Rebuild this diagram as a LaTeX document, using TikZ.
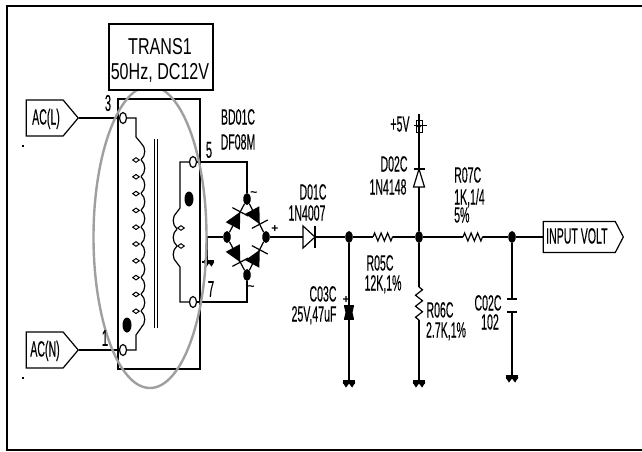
\documentclass[tikz,border=0pt]{standalone}
\usepackage{fontspec}
\usetikzlibrary{positioning,calc,shapes.geometric,shapes.symbols,decorations.pathmorphing}
\setmainfont{Liberation Sans}
\newfontfamily\schemfont[FakeStretch=0.48,FakeBold=0.25]{Liberation Sans}
\newfontfamily\titlefont[FakeStretch=0.7]{Liberation Sans}
\tikzset{
  wire/.style={line width=1.2pt},
  lbl/.style={font=\schemfont\fontsize{22}{22}\selectfont, inner sep=0pt, text height=15pt, text depth=0pt},
  pinno/.style={font=\schemfont\fontsize{23}{23}\selectfont, inner sep=0pt},
  polarity/.style={font=\bfseries\fontsize{12}{12}\selectfont, inner sep=0pt},
  tag/.style={draw, line width=1.2pt, signal, signal to=east, inner sep=0pt, anchor=east},
  terminal/.style={draw, line width=1.2pt, fill=white, ellipse, inner sep=0pt, minimum width=7pt, minimum height=11pt},
  junction/.style={fill=black, ellipse, inner sep=0pt, minimum width=7.5pt, minimum height=12pt},
  phasedot/.style={fill=black, ellipse, inner sep=0pt, minimum width=9pt, minimum height=15pt},
  coiltap/.style={draw, line width=1pt, fill=white, diamond, aspect=1.4, inner sep=0pt, minimum width=7pt, minimum height=5pt},
  resistor/.style={wire, decorate, decoration={zigzag, segment length=6.5pt, amplitude=4pt}},
  gnd/.pic={
    \fill (-6,-1) rectangle (6,2.5);
    \draw[line width=1.8pt] (-5.5,1) -- (-3,5) -- (0,1) -- (3,5) -- (5.5,1);
  },
  bridgediode/.pic={
    \fill (-9,-8) -- (-9,8) -- (7,0) -- cycle;
    \draw[line width=1.2pt] (7,-9) -- (7,9);
  }
}
\begin{document}
\begin{tikzpicture}[x=1pt,y=-1pt]
  \useasboundingbox (0,0) rectangle (642,452);
  \clip (0,0) rectangle (642,452);
  \draw[line width=2.6pt] (7,6) rectangle (646,450);

  % Nodes
  \node[tag, signal pointer angle=100, minimum width=52pt, minimum height=36pt] (ac_l) at (79,118) {};
  \node[lbl] (ac_l_txt) at (46,117) {AC(L)};
  \node[tag, signal pointer angle=100, minimum width=52pt, minimum height=36pt] (ac_n) at (79,350) {};
  \node[lbl] (ac_n_txt) at (45,349) {AC(N)};
  \node[tag, signal pointer angle=125, minimum width=80pt, minimum height=31pt] (input_volt) at (624,237) {};
  \node[lbl, anchor=west] (input_volt_txt) at (546,236) {INPUT VOLT};

  \node[terminal] (pin3) at (123,118) {};
  \node[terminal] (pin1) at (123,350) {};
  \node[terminal] (pin5) at (193,162) {};
  \node[terminal] (pin7) at (193,302) {};
  \coordinate (prim_top) at (136,118);
  \coordinate (prim_bot) at (136,350);
  \coordinate (sec_top) at (180,162);
  \coordinate (sec_bot) at (180,302);
  \coordinate (corner5) at (247,162);
  \coordinate (corner7) at (247,302);

  \node[junction] (br_top) at (247,199) {};
  \node[junction] (br_left) at (227,237) {};
  \node[junction] (br_right) at (266,237) {};
  \node[junction] (br_bot) at (247,275) {};
  \coordinate (tap) at (207,237);
  \coordinate (tap_gnd) at (207,261);

  \node[junction] (j_c03) at (349,237) {};
  \node[junction] (j_mid) at (419,237) {};
  \node[junction] (j_out) at (512,237) {};
  \coordinate (d01_a) at (303,237);
  \coordinate (d01_k) at (315,237);
  \coordinate (r05_a) at (373,237);
  \coordinate (r05_b) at (393,237);
  \coordinate (r07_a) at (463,237);
  \coordinate (r07_b) at (483,237);
  \coordinate (r06_a) at (419,287);
  \coordinate (r06_b) at (419,320);
  \coordinate (d02_k) at (419,169);
  \coordinate (d02_a) at (419,187);
  \coordinate (vcc) at (419,114);
  \coordinate (c03_a) at (349,306);
  \coordinate (c03_b) at (349,319);
  \coordinate (c02_a) at (512,299);
  \coordinate (c02_b) at (512,312);
  \coordinate (g_c03) at (349,381);
  \coordinate (g_r06) at (419,381);
  \coordinate (g_c02) at (512,376);

  % Transformer
  \draw[wire] (118,99) rectangle (200,369);
  \draw[line width=1pt] (154,139) -- (154,328) (157,139) -- (157,328);
  \draw[wire] (pin3) -- (prim_top) -- (136,137) -- (141,143);
  \foreach \n in {0,...,10}
    \draw[wire] (141,143+\n*16.8) to[bend left=50] (141,143+\n*16.8+16.8);
  \draw[wire] (141,328) -- (136,335) -- (prim_bot) -- (pin1);
  \foreach \n in {0,...,9}
    \node[coiltap] (tap\n) at (136,160+\n*16.8) {};
  \node[phasedot] (dot_prim) at (127,325) {};
  \draw[wire] (pin5) -- (sec_top) -- (180,208) -- (177,212);
  \foreach \n in {0,1,2}
    \draw[wire] (177,212+\n*17) to[bend right=50] (177,212+\n*17+17);
  \draw[wire] (177,263) -- (180,267) -- (sec_bot) -- (pin7);
  \node[coiltap] (sec_tap0) at (181,228) {};
  \node[coiltap] (sec_tap1) at (181,246) {};
  \node[phasedot] (dot_sec) at (189,199) {};

  % Bridge
  \draw[wire] (pin5) -- (corner5) -- (br_top);
  \draw[wire] (pin7) -- (corner7) -- (br_bot);
  \draw[wire] (br_left) -- (br_top) -- (br_right) -- (br_bot) -- (br_left);
  \draw[wire] (tap) -- (br_left);
  \draw[wire] (tap) -- (tap_gnd);
  \pic[scale=0.8] at ($(tap_gnd)+(2,0)$) {gnd};
  \pic[rotate=62] at ($(br_left)!0.5!(br_top)$) {bridgediode};
  \pic[rotate=-62] at ($(br_top)!0.5!(br_right)$) {bridgediode};
  \pic[rotate=-62] at ($(br_left)!0.5!(br_bot)$) {bridgediode};
  \pic[rotate=62] at ($(br_bot)!0.5!(br_right)$) {bridgediode};

  % Wires
  \draw[wire] (ac_l.east) -- (pin3);
  \draw[wire] (ac_n.east) -- (pin1);
  \draw[wire] (br_right) -- (d01_a);
  \draw[wire] (d01_a) ++(0,-11) -- ++(0,22) -- (d01_k) -- cycle;
  \draw[wire] (d01_k) ++(0,-11) -- ++(0,22);
  \draw[wire] (d01_k) -- (j_c03) -- (r05_a);
  \draw[resistor] (r05_a) -- (r05_b);
  \draw[wire] (r05_b) -- (j_mid) -- (r07_a);
  \draw[resistor] (r07_a) -- (r07_b);
  \draw[wire] (r07_b) -- (j_out) -- (input_volt.west);

  \draw[wire] (j_mid) -- (d02_a);
  \draw[wire] (d02_a) ++(-5.5,0) -- ++(11,0) -- (d02_k) -- cycle;
  \draw[wire] (d02_k) ++(-5.5,0) -- ++(11,0);
  \draw[wire] (d02_k) -- (vcc);
  \draw[line width=1pt] (416,120) rectangle (422,132);
  \draw[line width=1pt] (414,125.5) -- (427,125.5);
  \draw[line width=1pt] (419,126) circle (1.6);

  \draw[wire] (j_mid) -- (r06_a);
  \draw[resistor, decoration={amplitude=3.5pt, segment length=11pt}] (r06_a) -- (r06_b);
  \draw[wire] (r06_b) -- (g_r06);
  \pic at (g_r06) {gnd};

  \draw[wire] (j_c03) -- (c03_a);
  \draw[wire] (c03_b) -- (g_c03);
  \draw[line width=1.6pt] (c03_a) ++(-5,0) -- ++(10,0) (c03_b) ++(-5,0) -- ++(10,0);
  \fill (344,306) -- (354,306) -- (352.5,312.5) -- (354,319) -- (344,319) -- (345.5,312.5) -- cycle;
  \pic at (g_c03) {gnd};

  \draw[wire] (j_out) -- (c02_a);
  \draw[wire] (c02_b) -- (g_c02);
  \draw[wire] (c02_a) ++(-5,0) -- ++(10,0);
  \draw[wire] (c02_b) ++(-5,0) -- ++(10,0);
  \pic at (g_c02) {gnd};

  % Highlight
  \node[draw=gray!75, line width=2.4pt, ellipse, inner sep=0pt, minimum width=113pt, minimum height=302pt] (trans_ring) at (150,237) {};
  \node[draw, fill=white, line width=2pt, minimum width=104pt, minimum height=66pt, inner sep=0pt] (trans_box) at (161,57) {};
  \node[font=\titlefont\fontsize{23}{23}\selectfont, inner sep=0pt] (trans_name) at (160,47) {TRANS1};
  \node[font=\titlefont\fontsize{23}{23}\selectfont, inner sep=0pt] (trans_rate) at (160,73) {50Hz, DC12V};

  % Labels
  \node[pinno] (lbl3) at (108,103) {3};
  \node[pinno] (lbl1) at (105,338) {1};
  \node[pinno] (lbl5) at (209,150) {5};
  \node[pinno] (lbl7) at (211,289) {7};
  \node[lbl] (bd01c) at (238,117) {BD01C};
  \node[lbl] (df08m) at (238,142) {DF08M};
  \node[lbl] (d01c) at (313,192) {D01C};
  \node[lbl] (n4007) at (307,213) {1N4007};
  \node[lbl] (vcc_txt) at (400,124) {+5V};
  \node[lbl] (d02c) at (394,164) {D02C};
  \node[lbl] (n4148) at (388,187) {1N4148};
  \node[lbl, anchor=west] (r07c) at (454,175) {R07C};
  \node[lbl, anchor=west] (r07v) at (454,197) {1K,1/4};
  \node[lbl, anchor=west] (r07t) at (454,215) {5\%};
  \node[lbl] (r05c) at (380,263) {R05C};
  \node[lbl] (r05v) at (383,283) {12K,1\%};
  \node[lbl] (c03c) at (323,294) {C03C};
  \node[lbl] (c03v) at (314,314) {25V,47uF};
  \node[lbl] (r06c) at (440,310) {R06C};
  \node[lbl] (r06v) at (446,330) {2.7K,1\%};
  \node[lbl] (c02c) at (488,303) {C02C};
  \node[lbl] (c02v) at (490,322) {102};
  \node[polarity] (plus_br) at (275,229) {+};
  \node[polarity] (plus_c03) at (346,300) {+};
  \node[polarity] (ac_top) at (254,194) {\textasciitilde};
  \node[polarity] (ac_bot) at (251,288) {\textasciitilde};
  \node[fill=black, inner sep=0pt, minimum size=1.5pt] (spot_l) at (23,146) {};
  \node[fill=black, inner sep=0pt, minimum size=1.5pt] (spot_n) at (23,378) {};
  \node[fill=black, inner sep=0pt, minimum size=1.5pt] (spot_g) at (203,262) {};
\end{tikzpicture}
\end{document}
